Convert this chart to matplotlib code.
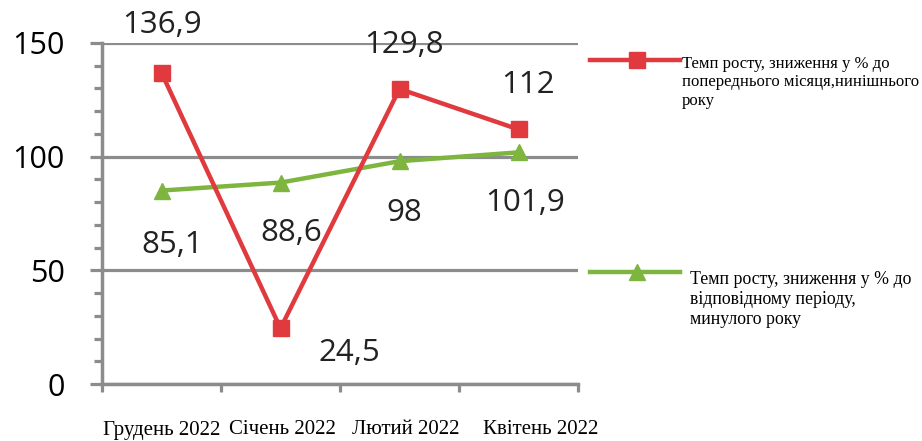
import matplotlib
matplotlib.use('Agg')
import matplotlib.pyplot as plt
from matplotlib.lines import Line2D
from matplotlib.ticker import MultipleLocator

months = ['Грудень 2022', 'Січень 2022', 'Лютий 2022', 'Квітень 2022']
prev_month = [136.9, 24.5, 129.8, 112]
prev_year = [85.1, 88.6, 98, 101.9]
prev_month_lbl = ['136,9', '24,5', '129,8', '112']
prev_year_lbl = ['85,1', '88,6', '98', '101,9']
legend_red = 'Темп росту, зниження у % до\nпопереднього місяця,нинішнього\nроку'
legend_green = 'Темп росту, зниження у % до\nвідповідному періоду,\nминулого року'

# label offsets in pixels from the point
red_off = [(1, 48), (69, -25), (5, 44), (10, 44)]
green_off = [(11, -54), (11, -50), (5, -52), (7, -51)]
# month labels are not quite centred in the original
month_shift = [0, 2, 6, 22]

RED = '#E0393E'
GREEN = '#7DB53F'
GRAY = '#8C8C8C'

fig = plt.figure(figsize=(9.22, 4.41), dpi=100)
ax = fig.add_axes([102 / 922, 1 - 384 / 441, 476 / 922, 341 / 441])

x = list(range(len(months)))
ax.plot(x, prev_month, color=RED, lw=3.2, marker='s', ms=11, zorder=4, clip_on=False)
ax.plot(x, prev_year, color=GREEN, lw=3.2, marker='^', ms=11, zorder=3, clip_on=False)

for i, v in enumerate(prev_month):
    ax.annotate(prev_month_lbl[i], (i, v), xytext=red_off[i], textcoords='offset pixels',
                ha='center', va='center', fontsize=22.5, family='Open Sans', color='#222222',
                annotation_clip=False)
for i, v in enumerate(prev_year):
    ax.annotate(prev_year_lbl[i], (i, v), xytext=green_off[i], textcoords='offset pixels',
                ha='center', va='center', fontsize=22.5, family='Open Sans', color='#222222',
                annotation_clip=False)

ax.set_xlim(-0.5, 3.5)
ax.set_ylim(0, 150)
ax.yaxis.set_major_locator(MultipleLocator(50))
ax.yaxis.set_minor_locator(MultipleLocator(10))
ax.grid(axis='y', which='major', color=GRAY, lw=2.3, zorder=1)
ax.set_axisbelow(True)

# month names drawn under the axis
ax.set_xticks([])
for i, m in enumerate(months):
    ax.annotate(m, (i, 0), xycoords=('data', 'axes fraction'),
                xytext=(month_shift[i], -46), textcoords='offset pixels',
                ha='center', va='center', family='Liberation Serif', fontsize=15,
                annotation_clip=False)
ax.set_xticks([-0.5, 0.5, 1.5, 2.5, 3.5], minor=True)
ax.tick_params(axis='x', which='minor', length=6, width=2.3, color=GRAY, direction='out')
ax.tick_params(axis='y', which='major', length=9, width=2.3, color=GRAY, pad=18,
               labelsize=22)
ax.tick_params(axis='y', which='minor', length=6, width=2.3, color=GRAY)
for t in ax.get_yticklabels():
    t.set_family('Open Sans')

for s in ['top', 'right']:
    ax.spines[s].set_visible(False)
for s in ['left', 'bottom']:
    ax.spines[s].set_color(GRAY)
    ax.spines[s].set_linewidth(2.5)

# legend entries drawn at the right of the plot
fig.add_artist(Line2D([590 / 922, 680 / 922], [1 - 60 / 441] * 2, color=RED, lw=3.2))
fig.add_artist(Line2D([637 / 922], [1 - 60 / 441], color=RED, marker='s', ms=11))
fig.text(682 / 922, 1 - 56 / 441, legend_red, family='Liberation Serif', fontsize=12,
         va='top', linespacing=1.2)
fig.add_artist(Line2D([590 / 922, 680 / 922], [1 - 272 / 441] * 2, color=GREEN, lw=3.2))
fig.add_artist(Line2D([637 / 922], [1 - 272 / 441], color=GREEN, marker='^', ms=11))
fig.text(690 / 922, 1 - 271 / 441, legend_green, family='Liberation Serif', fontsize=12.8,
         va='top', linespacing=1.25)

fig.savefig('out.png', dpi=100)
